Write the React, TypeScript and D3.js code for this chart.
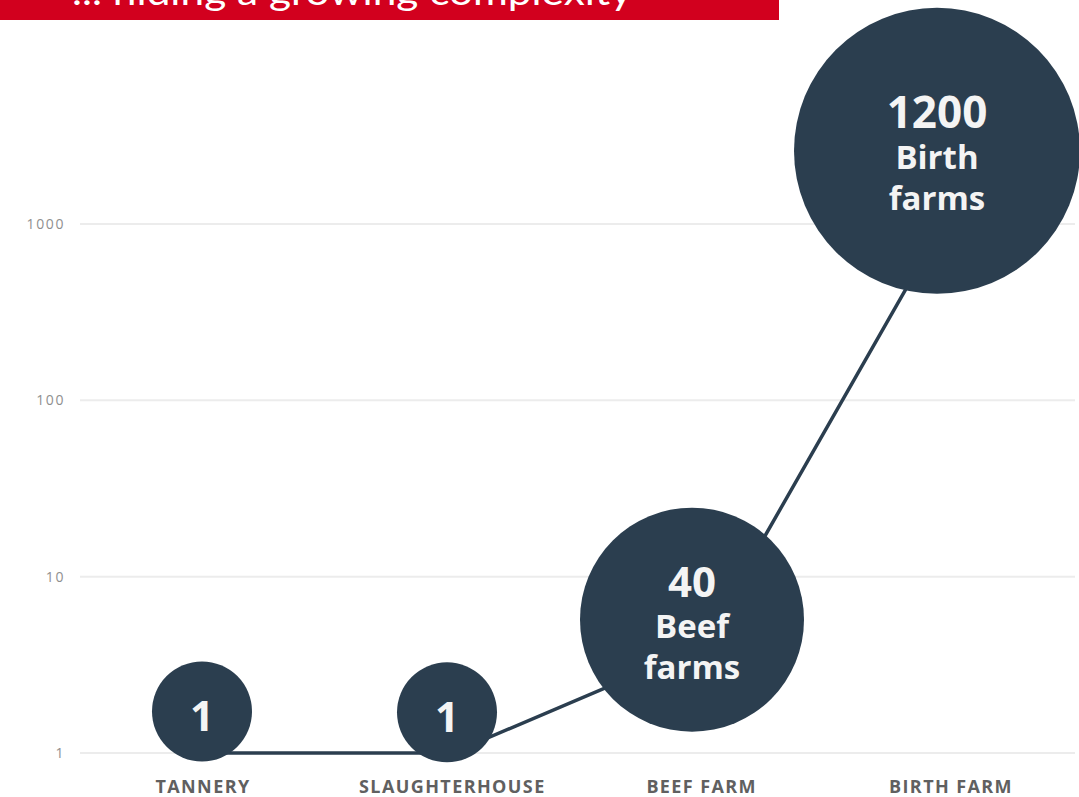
import React from "react";
import * as d3 from "d3";

// ---- data ----
const categories = ["TANNERY", "SLAUGHTERHOUSE", "BEEF FARM", "BIRTH FARM"];
const counts = [1, 1, 40, 1200];
const lineValues = [1, 1, 4, 1200];
const bubbleAnchor = [1.72, 1.7, 5.7, 2600];
const bubbleWords = [[], [], ["Beef", "farms"], ["Birth", "farms"]];
const yTicks = [1, 10, 100, 1000];
const title = "... hiding a growing complexity";

const W = 1079;
const H = 797;
const DARK = "#2b3e4f";

export default function App() {
  const y = d3.scaleLog().domain([1, 1000]).range([753, 224]);
  const x = d3.scalePoint<string>().domain(categories).range([203, 951]);
  const xb = d3.scalePoint<string>().domain(categories).range([202, 937]);
  const r = d3.scaleLog().domain([1, 40, 1200]).range([50, 112, 143]);

  const line = d3
    .line<number>()
    .x((_, i) => x(categories[i]) as number)
    .y((v) => y(v));

  return (
    <div style={{ position: "fixed", left: 0, top: 0 }}>
      <svg width={W} height={H} style={{ display: "block", background: "#fff" }}>
        {/* title banner */}
        <rect x={0} y={0} width={779} height={20} fill="#d2001e" />
        <text
          x={72}
          y={5}
          fill="#fff"
          fontFamily="Lato, 'Open Sans', sans-serif"
          fontWeight={400}
          fontSize={36}
          textLength={560}
          lengthAdjust="spacingAndGlyphs"
        >
          {title}
        </text>

        {/* grid */}
        {yTicks.map((t) => (
          <g key={t}>
            <line x1={80} x2={1075} y1={y(t)} y2={y(t)} stroke="#ececec" strokeWidth={2} />
            <text
              x={65}
              y={y(t)}
              dy="0.35em"
              textAnchor="end"
              fill="#8f8f8f"
              fontFamily="'Open Sans', sans-serif"
              fontSize={14}
              letterSpacing={1.6}
            >
              {t}
            </text>
          </g>
        ))}

        {/* x labels */}
        {categories.map((c) => (
          <text
            key={c}
            x={x(c)}
            y={793}
            textAnchor="middle"
            fill="#606060"
            fontFamily="'Open Sans', sans-serif"
            fontWeight={700}
            fontSize={18}
            letterSpacing={1.4}
          >
            {c}
          </text>
        ))}

        {/* line */}
        <path d={line(lineValues) || ""} fill="none" stroke={DARK} strokeWidth={3.5} />

        {/* bubbles */}
        {categories.map((c, i) => {
          const cx = xb(c) as number;
          const cy = y(bubbleAnchor[i]);
          const rad = r(counts[i]);
          const words = bubbleWords[i];
          const single = words.length === 0;
          const numSize = i === 3 ? 44 : 42;
          const wordSize = 33;
          const lh = 41;
          const firstBase = single ? cy + 20 : cy - 23;
          return (
            <g key={c}>
              <circle cx={cx} cy={cy} r={rad} fill={DARK} />
              <text
                x={cx}
                y={firstBase}
                textAnchor="middle"
                fill="#f4f4f4"
                fontFamily="'Open Sans', sans-serif"
                fontWeight={700}
                fontSize={numSize}
              >
                {counts[i]}
              </text>
              {words.map((w, k) => (
                <text
                  key={w}
                  x={cx}
                  y={firstBase + (k + 1) * lh}
                  textAnchor="middle"
                  fill="#f4f4f4"
                  fontFamily="'Open Sans', sans-serif"
                  fontWeight={700}
                  fontSize={wordSize}
                >
                  {w}
                </text>
              ))}
            </g>
          );
        })}
      </svg>
    </div>
  );
}
